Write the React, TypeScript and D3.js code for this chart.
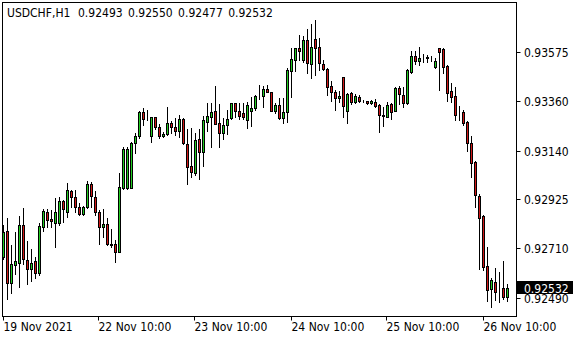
import React from 'react';
import * as d3 from 'd3';

const symbolLabel = 'USDCHF,H1';

const opens = [
  0.92671, 0.92785, 0.92554, 0.92633, 0.92645, 0.92812, 0.92657, 0.92618, 0.92652, 0.92598,
  0.92804, 0.92870, 0.92838, 0.92822, 0.92819, 0.92918, 0.92870, 0.92962, 0.92937, 0.92890,
  0.92859, 0.92890, 0.92993, 0.92934, 0.92868, 0.92804, 0.92816, 0.92728, 0.92726, 0.92694,
  0.92974, 0.92976, 0.92976, 0.93173, 0.93205, 0.93312, 0.93281, 0.93206, 0.93288, 0.93246,
  0.93205, 0.93212, 0.93261, 0.93246, 0.93228, 0.93279, 0.93170, 0.93072, 0.93040, 0.93190,
  0.93136, 0.93268, 0.93290, 0.93315, 0.93261, 0.93217, 0.93254, 0.93283, 0.93349, 0.93317,
  0.93305, 0.93276, 0.93317, 0.93327, 0.93380, 0.93382, 0.93413, 0.93398, 0.93317, 0.93342,
  0.93283, 0.93310, 0.93492, 0.93541, 0.93595, 0.93541, 0.93629, 0.93522, 0.93634, 0.93600,
  0.93522, 0.93501, 0.93427, 0.93398, 0.93372, 0.93464, 0.93315, 0.93394, 0.93354, 0.93379,
  0.93361, 0.93358, 0.93349, 0.93356, 0.93340, 0.93296, 0.93290, 0.93345, 0.93317, 0.93418,
  0.93386, 0.93352, 0.93489, 0.93559, 0.93538, 0.93548, 0.93550, 0.93553, 0.93511, 0.93593,
  0.93588, 0.93514, 0.93404, 0.93382, 0.93308, 0.93312, 0.93268, 0.93173, 0.93091, 0.92940,
  0.92851, 0.92630, 0.92527, 0.92560, 0.92527, 0.92534, 0.92493,
];
const highs = [
  0.92812, 0.92841, 0.92723, 0.92782, 0.92851, 0.92885, 0.92742, 0.92705, 0.92671, 0.92822,
  0.92881, 0.92881, 0.92878, 0.92930, 0.92934, 0.92922, 0.92999, 0.92966, 0.92966, 0.92910,
  0.92896, 0.93007, 0.93003, 0.92963, 0.92878, 0.92881, 0.92841, 0.92793, 0.92745, 0.93043,
  0.93155, 0.93158, 0.93177, 0.93217, 0.93317, 0.93327, 0.93320, 0.93290, 0.93290, 0.93258,
  0.93224, 0.93332, 0.93273, 0.93283, 0.93298, 0.93283, 0.93235, 0.93239, 0.93220, 0.93235,
  0.93293, 0.93352, 0.93349, 0.93426, 0.93346, 0.93283, 0.93320, 0.93352, 0.93352, 0.93352,
  0.93352, 0.93356, 0.93376, 0.93386, 0.93430, 0.93426, 0.93430, 0.93401, 0.93352, 0.93372,
  0.93372, 0.93507, 0.93593, 0.93595, 0.93651, 0.93648, 0.93678, 0.93699, 0.93718, 0.93637,
  0.93541, 0.93504, 0.93448, 0.93408, 0.93404, 0.93467, 0.93394, 0.93398, 0.93389, 0.93386,
  0.93364, 0.93360, 0.93364, 0.93368, 0.93344, 0.93334, 0.93356, 0.93349, 0.93423, 0.93426,
  0.93423, 0.93500, 0.93581, 0.93582, 0.93600, 0.93567, 0.93562, 0.93559, 0.93548, 0.93593,
  0.93593, 0.93517, 0.93438, 0.93423, 0.93338, 0.93319, 0.93273, 0.93205, 0.93096, 0.92949,
  0.92856, 0.92716, 0.92576, 0.92620, 0.92605, 0.92654, 0.92550,
];
const lows = [
  0.92660, 0.92483, 0.92512, 0.92595, 0.92536, 0.92639, 0.92549, 0.92565, 0.92576, 0.92590,
  0.92786, 0.92801, 0.92804, 0.92716, 0.92812, 0.92826, 0.92846, 0.92890, 0.92870, 0.92856,
  0.92856, 0.92885, 0.92892, 0.92856, 0.92728, 0.92757, 0.92723, 0.92716, 0.92649, 0.92690,
  0.92971, 0.92969, 0.92974, 0.93128, 0.93195, 0.93254, 0.93276, 0.93180, 0.93235, 0.93195,
  0.93199, 0.93209, 0.93220, 0.93209, 0.93202, 0.93170, 0.92993, 0.93022, 0.93033, 0.93014,
  0.93072, 0.93228, 0.93158, 0.93257, 0.93155, 0.93190, 0.93214, 0.93279, 0.93290, 0.93279,
  0.93279, 0.93239, 0.93249, 0.93320, 0.93367, 0.93332, 0.93398, 0.93315, 0.93308, 0.93279,
  0.93261, 0.93268, 0.93379, 0.93492, 0.93541, 0.93533, 0.93482, 0.93460, 0.93475, 0.93497,
  0.93497, 0.93386, 0.93360, 0.93320, 0.93356, 0.93290, 0.93261, 0.93345, 0.93349, 0.93354,
  0.93354, 0.93346, 0.93345, 0.93334, 0.93224, 0.93249, 0.93288, 0.93279, 0.93315, 0.93346,
  0.93334, 0.93346, 0.93485, 0.93523, 0.93519, 0.93533, 0.93533, 0.93538, 0.93504, 0.93408,
  0.93485, 0.93361, 0.93356, 0.93276, 0.93276, 0.93254, 0.93140, 0.93025, 0.92890, 0.92616,
  0.92613, 0.92477, 0.92450, 0.92480, 0.92473, 0.92483, 0.92477,
];
const closes = [
  0.92782, 0.92554, 0.92638, 0.92652, 0.92812, 0.92660, 0.92618, 0.92645, 0.92598, 0.92807,
  0.92875, 0.92834, 0.92830, 0.92870, 0.92919, 0.92881, 0.92966, 0.92934, 0.92890, 0.92859,
  0.92890, 0.92993, 0.92940, 0.92868, 0.92801, 0.92815, 0.92726, 0.92724, 0.92691, 0.92978,
  0.93147, 0.93147, 0.93173, 0.93205, 0.93312, 0.93279, 0.93279, 0.93288, 0.93246, 0.93206,
  0.93214, 0.93261, 0.93246, 0.93228, 0.93279, 0.93173, 0.93067, 0.93044, 0.93187, 0.93136,
  0.93276, 0.93293, 0.93310, 0.93258, 0.93217, 0.93254, 0.93279, 0.93349, 0.93317, 0.93295,
  0.93290, 0.93342, 0.93327, 0.93382, 0.93383, 0.93413, 0.93398, 0.93317, 0.93342, 0.93283,
  0.93310, 0.93497, 0.93545, 0.93593, 0.93582, 0.93629, 0.93526, 0.93600, 0.93595, 0.93526,
  0.93501, 0.93423, 0.93401, 0.93372, 0.93383, 0.93339, 0.93389, 0.93354, 0.93383, 0.93360,
  0.93360, 0.93349, 0.93360, 0.93339, 0.93296, 0.93293, 0.93341, 0.93312, 0.93416, 0.93389,
  0.93352, 0.93497, 0.93559, 0.93538, 0.93548, 0.93548, 0.93552, 0.93553, 0.93538, 0.93578,
  0.93511, 0.93396, 0.93379, 0.93298, 0.93308, 0.93264, 0.93173, 0.93084, 0.92944, 0.92841,
  0.92627, 0.92524, 0.92568, 0.92517, 0.92527, 0.92495, 0.92532,
];

const priceTicks = [0.93575, 0.9336, 0.9314, 0.92925, 0.9271, 0.9249];
const timeTickBars = [0, 24, 48, 72, 96, 120];
const timeTickLabels = ['19 Nov 2021', '22 Nov 10:00', '23 Nov 10:00', '24 Nov 10:00', '25 Nov 10:00', '26 Nov 10:00'];

const BULL = '#22cc22';
const BEAR = '#d01818';
const FONT = "'DejaVu Sans Condensed', 'DejaVu Sans', sans-serif";

export default function App() {
  const n = opens.length;
  const left = 2.5, right = 516.5, top = 2.5, bottom = 316.5;
  const x = d3.scaleLinear().domain([0, n - 1]).range([3.5, 3.5 + 4 * (n - 1)]);
  const y = d3.scaleLinear().domain([0.92409, 0.93797]).range([316, 2]);
  const py = (v: number) => Math.round(y(v)) + 0.5;
  const last = n - 1;
  const ohlcText = [opens[last], highs[last], lows[last], closes[last]].map((v) => v.toFixed(5)).join(' ');
  const lastY = Math.round(y(closes[last]));

  return (
    <svg width={580} height={340} style={{ position: 'absolute', left: 0, top: 0, background: '#fff' }} fontFamily={FONT}>
      <rect x={0} y={0} width={580} height={340} fill="#fff" />
      <defs>
        <clipPath id="plot">
          <rect x={2} y={2} width={515} height={315} />
        </clipPath>
      </defs>
      <g clipPath="url(#plot)">
        {opens.map((o, i) => {
          const c = closes[i];
          const cx = x(i);
          const yt = py(Math.max(o, c));
          const yb = py(Math.min(o, c));
          return (
            <g key={i}>
              <line x1={cx} x2={cx} y1={py(highs[i]) - 0.5} y2={py(lows[i]) + 0.5} stroke="#000" strokeWidth={1} />
              <rect x={cx - 1} y={yt} width={2} height={Math.max(0, yb - yt)} fill={c > o ? BULL : c < o ? BEAR : '#000'} stroke="#000" strokeWidth={1} />
            </g>
          );
        })}
      </g>
      <rect x={left} y={top} width={right - left} height={bottom - top} fill="none" stroke="#000" strokeWidth={1} />
      {timeTickBars.map((b, k) => {
        const tx = Math.round(x(b)) - 0.5;
        return (
          <g key={k}>
            <line x1={tx} x2={tx} y1={bottom} y2={bottom + 4} stroke="#000" />
            <text x={tx} y={331} fontSize={12} fill="#000">{timeTickLabels[k]}</text>
          </g>
        );
      })}
      {priceTicks.map((p, k) => {
        const ty = Math.round(y(p)) + 0.5;
        return (
          <g key={k}>
            <line x1={right} x2={right + 4} y1={ty} y2={ty} stroke="#000" />
            <text x={524} y={ty + 4.5} fontSize={12} fill="#000">{p.toFixed(5)}</text>
          </g>
        );
      })}
      <rect x={517} y={lastY - 7} width={56} height={13} fill="#000" />
      <text x={524} y={lastY + 4.5} fontSize={12} fill="#fff">{closes[last].toFixed(5)}</text>
      <text x={7} y={16.5} fontSize={12} fill="#000">{symbolLabel}</text>
      <text x={78} y={16.5} fontSize={12} fill="#000" wordSpacing={2}>{ohlcText}</text>
    </svg>
  );
}
